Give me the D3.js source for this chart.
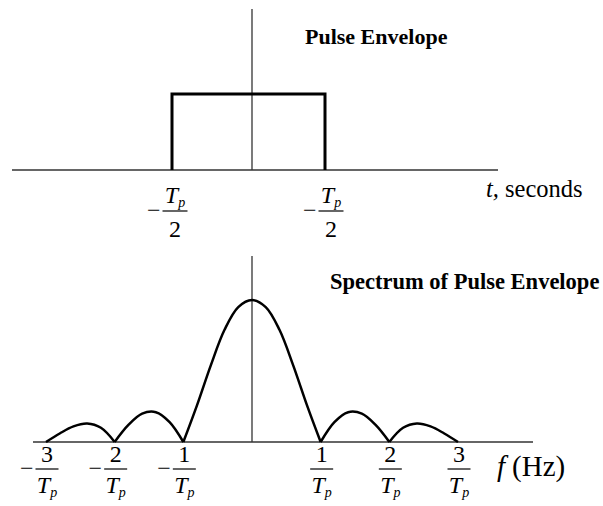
<!DOCTYPE html>
<html>
<head>
<meta charset="utf-8">
<script src="https://cdn.jsdelivr.net/npm/d3@7"></script>
<style>
  html, body { margin: 0; padding: 0; background: #fff; }
  svg { display: block; }
  text { font-family: "Liberation Serif", "Times New Roman", serif; fill: #000; }
</style>
</head>
<body>
<svg id="chart" width="603" height="506"></svg>
<script>
// Rectangular pulse envelope: time in units of Tp, amplitude normalised
const pulseTimes = [-0.5, -0.5, 0.5, 0.5];
const pulseAmps  = [0, 1, 1, 0];
const pulseTickLabels = [
  { t: -0.5, sign: "−", num: "T", sub: "p", den: "2" },
  { t:  0.5, sign: "−", num: "T", sub: "p", den: "2" }
];

// Magnitude spectrum: frequency in units of 1/Tp, amplitude normalised, one array per lobe
const lobeFreqs = [
  [-3, -2.8, -2.6, -2.4, -2.2, -2],
  [-2, -1.8, -1.6, -1.4, -1.2, -1],
  [-1, -0.8, -0.6, -0.4, -0.2, 0, 0.2, 0.4, 0.6, 0.8, 1],
  [1, 1.2, 1.4, 1.6, 1.8, 2],
  [2, 2.2, 2.4, 2.6, 2.8, 3]
];
const lobeAmps = [
  [0, 0.06, 0.11, 0.13, 0.10, 0],
  [0, 0.12, 0.20, 0.21, 0.14, 0],
  [0, 0.26, 0.54, 0.79, 0.95, 1.0, 0.95, 0.79, 0.54, 0.26, 0],
  [0, 0.14, 0.21, 0.20, 0.12, 0],
  [0, 0.10, 0.13, 0.11, 0.06, 0]
];
const freqTicks = [-3, -2, -1, 1, 2, 3];
const freqTickNums = ["3", "2", "1", "1", "2", "3"];

const svg = d3.select("#chart");

// ---------- top panel: pulse envelope ----------
const xt = d3.scaleLinear().domain([-0.5, 0, 0.5]).range([172, 252, 325]);
const yt = d3.scaleLinear().domain([0, 1]).range([170, 94]);

svg.append("line")
  .attr("x1", 12).attr("x2", 498)
  .attr("y1", yt(0)).attr("y2", yt(0))
  .attr("stroke", "#333").attr("stroke-width", 1.5);
svg.append("line")
  .attr("x1", xt(0)).attr("x2", xt(0))
  .attr("y1", 9).attr("y2", yt(0))
  .attr("stroke", "#333").attr("stroke-width", 1.3);

const pulsePts = pulseTimes.map((t, i) => [xt(t), yt(pulseAmps[i])]);
svg.append("path")
  .attr("d", d3.line()(pulsePts))
  .attr("fill", "none").attr("stroke", "#000")
  .attr("stroke-width", 3).attr("stroke-linejoin", "miter");

svg.append("text").attr("x", 305).attr("y", 44)
  .attr("font-size", 22).attr("font-weight", "bold")
  .text("Pulse Envelope");

// fraction label: sign, numerator, bar, denominator ("T" is drawn italic with subscript p)
function fraction(g, cx, yNum, yBar, yDen, sign, num, sub, den, barW) {
  const grp = g.append("g");
  grp.append("text").attr("x", cx - barW / 2 - 2).attr("y", yBar + 7)
    .attr("text-anchor", "end").attr("font-size", 24).text(sign);
  const part = (y, s) => {
    const t = grp.append("text").attr("x", cx).attr("y", y)
      .attr("text-anchor", "middle").attr("font-size", 24);
    if (s === "T") {
      t.append("tspan").attr("font-style", "italic").text("T");
      t.append("tspan").attr("font-style", "italic").attr("font-size", 14).attr("dy", 4).text(sub);
    } else {
      t.text(s);
    }
  };
  part(yNum, num);
  grp.append("line").attr("x1", cx - barW / 2).attr("x2", cx + barW / 2)
    .attr("y1", yBar).attr("y2", yBar).attr("stroke", "#000").attr("stroke-width", 1.2);
  part(yDen, den);
}

pulseTickLabels.forEach(d => {
  fraction(svg, xt(d.t) + (d.t < 0 ? 3 : 6), 203, 211, 237, d.sign, d.num, d.sub, d.den, 25);
});

const tl = svg.append("text").attr("x", 486).attr("y", 197).attr("font-size", 24.5);
tl.append("tspan").attr("font-style", "italic").text("t,");
tl.append("tspan").text(" seconds");

// ---------- bottom panel: spectrum ----------
const xf = d3.scaleLinear().domain([-3, 0, 3]).range([46, 252, 458]);
const yf = d3.scaleLinear().domain([0, 1]).range([442, 300]);

svg.append("line")
  .attr("x1", 33).attr("x2", 533)
  .attr("y1", yf(0)).attr("y2", yf(0))
  .attr("stroke", "#333").attr("stroke-width", 1.5);
svg.append("line")
  .attr("x1", xf(0)).attr("x2", xf(0))
  .attr("y1", 256).attr("y2", yf(0))
  .attr("stroke", "#333").attr("stroke-width", 1.3);

const spec = d3.line().x(d => xf(d[0])).y(d => yf(d[1])).curve(d3.curveCatmullRom.alpha(0.5));
lobeFreqs.forEach((fs, i) => {
  svg.append("path")
    .attr("d", spec(fs.map((f, j) => [f, lobeAmps[i][j]])))
    .attr("fill", "none").attr("stroke", "#000").attr("stroke-width", 2.5);
});

svg.append("text").attr("x", 330).attr("y", 289)
  .attr("font-size", 22.5).attr("font-weight", "bold")
  .text("Spectrum of Pulse Envelope");

freqTicks.forEach((f, i) => {
  fraction(svg, xf(f) + 1, 462, 469, 493, f < 0 ? "−" : "", freqTickNums[i], "p", "T", 23);
});

const fl = svg.append("text").attr("x", 497).attr("y", 476).attr("font-size", 29);
fl.append("tspan").attr("font-style", "italic").text("f");
fl.append("tspan").attr("dx", 7).text("(Hz)");
</script>
</body>
</html>
